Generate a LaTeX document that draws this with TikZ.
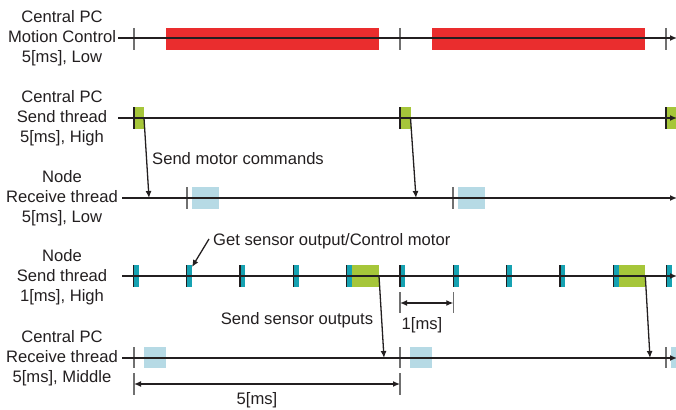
\documentclass[tikz,border=0pt]{standalone}
\usepackage{fontspec}
\setmainfont{Liberation Sans}
\usetikzlibrary{arrows.meta}
\definecolor{cred}{HTML}{EA2D2E}
\definecolor{cgreen}{HTML}{A6C63A}
\definecolor{cblue}{HTML}{B6DAE5}
\definecolor{cteal}{HTML}{16A2B2}
\definecolor{cline}{HTML}{231F20}
\definecolor{ctick}{HTML}{707070}
\begin{document}
\begin{tikzpicture}[x=1pt,y=-1pt,
  font=\fontsize{16.6}{20}\selectfont,
  every node/.style={text=cline},
  axis/.style={draw=cline,line width=1.5pt,-{Latex[length=7pt,width=6pt]}},
  tickln/.style={draw=ctick,line width=1.2pt},
  darktick/.style={draw=cline,line width=1.2pt},
  blk/.style={rectangle,anchor=north west,inner sep=0pt,outer sep=0pt,draw=none},
  msg/.style={draw=cline,line width=1.3pt,-{Latex[length=7pt,width=6pt]}},
  dim/.style={draw=cline,line width=1.3pt,{Latex[length=7pt,width=6pt]}-{Latex[length=7pt,width=6pt]}},
  lbl/.style={align=center,inner sep=0pt}
]
\useasboundingbox (0,0) rectangle (676,409);

% ---------- labels ----------
\node[lbl] (l1) at (62,38) {Central PC\\Motion Control\\5[ms], Low};
\node[lbl] (l2) at (62,118) {Central PC\\Send thread\\5[ms], High};
\node[lbl] (l3) at (62,198) {Node\\Receive thread\\5[ms], Low};
\node[lbl] (l4) at (62,277) {Node\\Send thread\\1[ms], High};
\node[lbl] (l5) at (62,358) {Central PC\\Receive thread\\5[ms], Middle};

% ---------- row 1: motion control ----------
\node[blk,fill=cred,minimum width=213pt,minimum height=22pt] (r1a) at (166,28) {};
\node[blk,fill=cred,minimum width=213pt,minimum height=22pt] (r1b) at (432,28) {};
\foreach \x in {134,400,666} \draw[tickln] (\x,28) -- (\x,50);
\coordinate (a1s) at (118,38); \coordinate (a1e) at (677,38);
\draw[axis] (a1s) -- (a1e);

% ---------- row 2: central PC send ----------
\node[blk,fill=cgreen,minimum width=10pt,minimum height=22pt] (g2a) at (134,107) {};
\node[blk,fill=cgreen,minimum width=11pt,minimum height=22pt] (g2b) at (400,107) {};
\node[blk,fill=cgreen,minimum width=10pt,minimum height=22pt] (g2c) at (666,107) {};
\foreach \x in {134,400,666} \draw[darktick] (\x,107) -- (\x,129);
\coordinate (a2s) at (118,118); \coordinate (a2e) at (677,118);
\draw[axis] (a2s) -- (a2e);

% ---------- row 3: node receive ----------
\node[blk,fill=cblue,minimum width=27pt,minimum height=22pt] (b3a) at (192,187) {};
\node[blk,fill=cblue,minimum width=27pt,minimum height=22pt] (b3b) at (458,187) {};
\foreach \x in {187,453} \draw[tickln] (\x,187) -- (\x,209);
\coordinate (a3s) at (122,198); \coordinate (a3e) at (677,198);
\draw[axis] (a3s) -- (a3e);

% ---------- row 4: node send ----------
\node[blk,fill=cgreen,minimum width=27pt,minimum height=22pt] (g4a) at (352,265) {};
\node[blk,fill=cgreen,minimum width=27pt,minimum height=22pt] (g4b) at (618.3,265) {};
\foreach \i in {0,...,10} {
  \pgfmathsetmacro{\xx}{133.3+53.33*\i}
  \node[blk,fill=cteal,minimum width=5.5pt,minimum height=22pt] (t4\i) at (\xx,265) {};
  \draw[darktick] (\xx,265) -- (\xx,287);
}
\coordinate (a4s) at (122,276); \coordinate (a4e) at (677,276);
\draw[axis] (a4s) -- (a4e);

% ---------- row 5: central PC receive ----------
\node[blk,fill=cblue,minimum width=22pt,minimum height=21pt] (b5a) at (144,347) {};
\node[blk,fill=cblue,minimum width=22pt,minimum height=21pt] (b5b) at (410,347) {};
\node[blk,fill=cblue,minimum width=6pt,minimum height=21pt] (b5c) at (671,347) {};
\foreach \x in {134,400,666} \draw[tickln] (\x,347) -- (\x,368);
\coordinate (a5s) at (122,358); \coordinate (a5e) at (677,358);
\draw[axis] (a5s) -- (a5e);

% ---------- messages ----------
\coordinate (m1s) at (144,118); \coordinate (m1e) at (149,198);
\coordinate (m2s) at (410.5,118); \coordinate (m2e) at (416,198);
\draw[msg] (m1s) -- (m1e);
\draw[msg] (m2s) -- (m2e);
\node[anchor=west,inner sep=0pt] (smc) at (152,159) {Send motor commands};

\coordinate (m3s) at (379,276); \coordinate (m3e) at (384,358);
\coordinate (m4s) at (645.3,276); \coordinate (m4e) at (650,358);
\draw[msg] (m3s) -- (m3e);
\draw[msg] (m4s) -- (m4e);
\node[inner sep=0pt] (sso) at (297,320) {Send sensor outputs};

\node[anchor=west,inner sep=0pt] (gso) at (213,241) {Get sensor output/Control motor};
\coordinate (gsa) at (209,239); \coordinate (gse) at (192,267);
\draw[msg] (gsa) -- (gse);

% ---------- dimensions ----------
\foreach \x in {400,453.3} \draw[tickln] (\x,292) -- (\x,313);
\coordinate (d1s) at (400,303); \coordinate (d1e) at (453.3,303);
\draw[dim] (d1s) -- (d1e);
\node[inner sep=0pt] (d1l) at (422,325) {1[ms]};

\foreach \x in {134,400} \draw[tickln] (\x,373) -- (\x,395);
\coordinate (d2s) at (134,384); \coordinate (d2e) at (400,384);
\draw[dim] (d2s) -- (d2e);
\node[inner sep=0pt] (d2l) at (257,400) {5[ms]};
\end{tikzpicture}
\end{document}
